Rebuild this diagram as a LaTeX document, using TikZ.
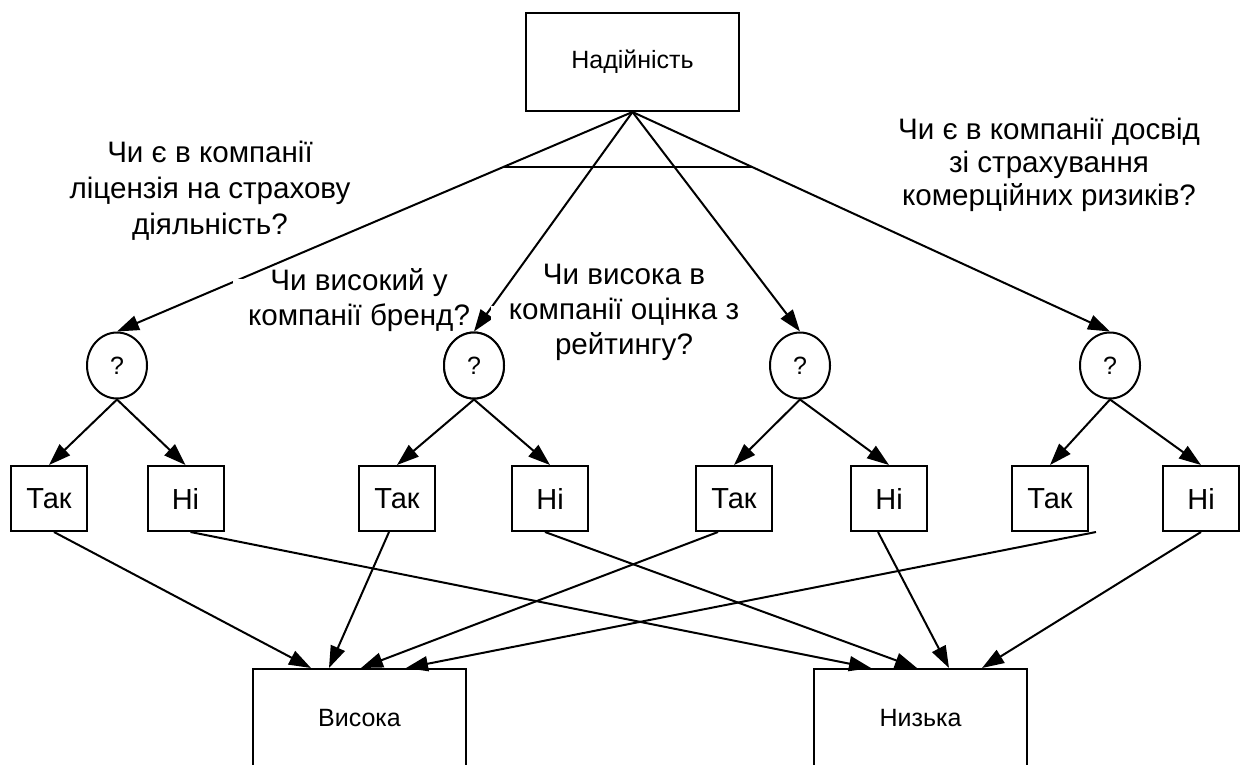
\documentclass[tikz,border=0pt]{standalone}
\usepackage{fontspec}
\setmainfont{Liberation Sans}
\usetikzlibrary{arrows.meta,shapes.geometric,calc}
\begin{document}
\begin{tikzpicture}[x=0.5pt,y=-0.5pt,line width=1pt,
  bigbox/.style={draw,rectangle,minimum width=106.5pt,minimum height=49pt,inner sep=0pt,font=\fontsize{12.5}{14}\selectfont},
  ansbox/.style={draw,rectangle,minimum width=38pt,minimum height=32.5pt,inner sep=0pt,font=\fontsize{14.5}{16}\selectfont},
  qnode/.style={draw,ellipse,minimum width=30pt,minimum height=33pt,inner sep=0pt,font=\fontsize{12.5}{14}\selectfont},
  question/.style={align=center,inner sep=0pt,font=\fontsize{14.8}{17.5}\selectfont},
  link/.style={-{Triangle[length=11pt,width=7.5pt]}}
]
\useasboundingbox (0,0) rectangle (1242,765);

% root criterion
\node[bigbox] (top) at (632.5,62) {Надійність};

% question points
\node[qnode] (c1) at (117,365.5) {?};
\node[qnode] (c2) at (474,365.5) {?};
\node[qnode] (c3) at (800,365.5) {?};
\node[qnode] (c4) at (1110,365.5) {?};

% answers
\node[ansbox] (t1) at (49,498.5) {Так};
\node[ansbox] (n1) at (185.5,498.5) {Ні};
\node[ansbox] (t2) at (397,498.5) {Так};
\node[ansbox] (n2) at (550,498.5) {Ні};
\node[ansbox] (t3) at (734,498.5) {Так};
\node[ansbox] (n3) at (889,498.5) {Ні};
\node[ansbox] (t4) at (1050,498.5) {Так};
\node[ansbox] (n4) at (1201,498.5) {Ні};

% outcomes
\node[bigbox] (hi) at (359.5,718) {Висока};
\node[bigbox] (lo) at (920.5,718) {Низька};

% branches from the root
\draw[link] (top.south) -- (c1.north);
\draw[link] (top.south) -- (c2.north);
\draw[link] (top.south) -- (c3.north);
\draw[link] (top.south) -- (c4.north);
\coordinate (barL) at ($(top.south)!0.2511!(c1.north)$);
\coordinate (barR) at ($(top.south)!0.2511!(c4.north)$);
\draw (barL) -- (barR);

% answers to each question
\foreach \i in {1,2,3,4}{
  \draw[link] (c\i.south) -- (t\i.north);
  \draw[link] (c\i.south) -- (n\i.north);
}

% answers to outcomes
\draw[link] ([xshift=2.5pt]t1.south) -- ([xshift=29.5pt]hi.north west);
\draw[link] ([xshift=-4pt]t2.south) -- ([xshift=38.5pt]hi.north west);
\draw[link] ([xshift=-8pt]t3.south) -- ([xshift=54.5pt]hi.north west);
\draw[link] ([xshift=3.5pt]t4.south east) -- ([xshift=77pt]hi.north west);
\draw[link] ([xshift=2.5pt]n1.south) -- ([xshift=29pt]lo.north west);
\draw[link] ([xshift=-2.5pt]n2.south) -- ([xshift=52pt]lo.north west);
\draw[link] ([xshift=-5.5pt]n3.south) -- ([xshift=68pt]lo.north west);
\draw[link] (n4.south) -- ([xshift=84.5pt]lo.north west);

% text-box backgrounds of two questions
\fill[white] (233,278.5) rectangle (468,330);
\fill[white] (491,306) rectangle (700,330);
\node[qnode,fill=white] at (c2) {?};

% questions
\node[question,font=\fontsize{14.8}{18}\selectfont] (q1) at (210,191) {Чи є в компанії\\ліцензія на страхову\\діяльність?};
\node[question] (q2) at (359,300) {Чи високий у\\компанії бренд?};
\node[question] (q3) at (624,312) {Чи висока в\\компанії оцінка з\\рейтингу?};
\node[question,font=\fontsize{14.8}{16.5}\selectfont] (q4) at (1049,165) {Чи є в компанії досвід\\зі страхування\\комерційних ризиків?};
\end{tikzpicture}
\end{document}
